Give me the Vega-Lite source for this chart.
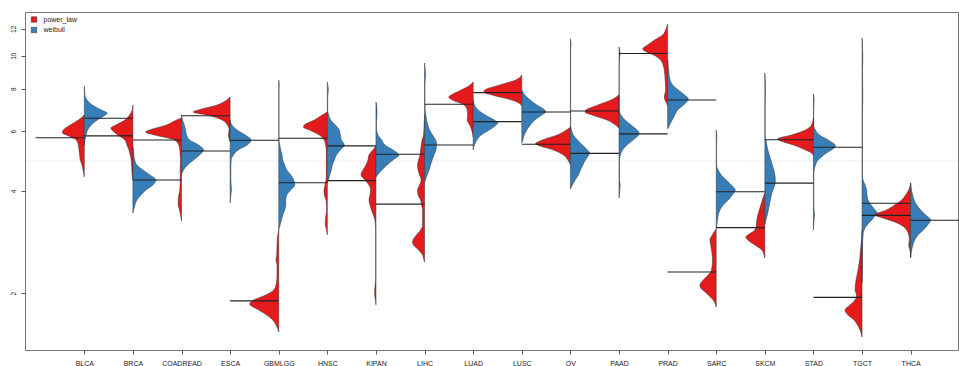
{
"$schema": "https://vega.github.io/schema/vega-lite/v6.json",
"width": 933, "height": 338, "autosize": "none",
"padding": {"left": 25, "top": 12, "right": 1, "bottom": 16},
"background": "white",
"config": {"font": "Liberation Sans", "view": {"stroke": "#777", "strokeWidth": 1},
 "axis": {"grid": false, "domain": false, "tickColor": "#555", "tickSize": 4, "labelColor": "#222", "labelFont": "Liberation Sans", "title": null}},
"datasets": {
"beans": [
{"c":"BLCA","m":"power_law","v":6.694,"w":0},{"c":"BLCA","m":"power_law","v":6.471,"w":0.123},{"c":"BLCA","m":"power_law","v":6.256,"w":0.288},{"c":"BLCA","m":"power_law","v":6.047,"w":0.432},{"c":"BLCA","m":"power_law","v":5.93,"w":0.453},{"c":"BLCA","m":"power_law","v":5.846,"w":0.37},{"c":"BLCA","m":"power_law","v":5.652,"w":0.165},{"c":"BLCA","m":"power_law","v":5.463,"w":0.123},{"c":"BLCA","m":"power_law","v":5.281,"w":0.109},{"c":"BLCA","m":"power_law","v":5.105,"w":0.097},{"c":"BLCA","m":"power_law","v":4.935,"w":0.082},{"c":"BLCA","m":"power_law","v":4.77,"w":0.047},{"c":"BLCA","m":"power_law","v":4.612,"w":0.027},{"c":"BLCA","m":"power_law","v":4.458,"w":0.006},{"c":"BLCA","m":"power_law","v":4.4,"w":0},
{"c":"BLCA","m":"weibull","v":8.15,"w":0},{"c":"BLCA","m":"weibull","v":7.929,"w":0.006},{"c":"BLCA","m":"weibull","v":7.665,"w":0.014},{"c":"BLCA","m":"weibull","v":7.41,"w":0.056},{"c":"BLCA","m":"weibull","v":7.164,"w":0.165},{"c":"BLCA","m":"weibull","v":6.925,"w":0.35},{"c":"BLCA","m":"weibull","v":6.785,"w":0.473},{"c":"BLCA","m":"weibull","v":6.694,"w":0.432},{"c":"BLCA","m":"weibull","v":6.471,"w":0.267},{"c":"BLCA","m":"weibull","v":6.256,"w":0.144},{"c":"BLCA","m":"weibull","v":6.047,"w":0.068},{"c":"BLCA","m":"weibull","v":5.846,"w":0.035},{"c":"BLCA","m":"weibull","v":5.652,"w":0.014},{"c":"BLCA","m":"weibull","v":5.463,"w":0},
{"c":"BRCA","m":"power_law","v":7.164,"w":0},{"c":"BRCA","m":"power_law","v":6.925,"w":0.014},{"c":"BRCA","m":"power_law","v":6.694,"w":0.068},{"c":"BRCA","m":"power_law","v":6.471,"w":0.165},{"c":"BRCA","m":"power_law","v":6.256,"w":0.35},{"c":"BRCA","m":"power_law","v":6.13,"w":0.453},{"c":"BRCA","m":"power_law","v":6.047,"w":0.432},{"c":"BRCA","m":"power_law","v":5.846,"w":0.309},{"c":"BRCA","m":"power_law","v":5.652,"w":0.165},{"c":"BRCA","m":"power_law","v":5.463,"w":0.123},{"c":"BRCA","m":"power_law","v":5.281,"w":0.082},{"c":"BRCA","m":"power_law","v":5.105,"w":0.056},{"c":"BRCA","m":"power_law","v":4.935,"w":0.035},{"c":"BRCA","m":"power_law","v":4.77,"w":0.027},{"c":"BRCA","m":"power_law","v":4.612,"w":0.021},{"c":"BRCA","m":"power_law","v":4.458,"w":0.014},{"c":"BRCA","m":"power_law","v":4.309,"w":0},
{"c":"BRCA","m":"weibull","v":5.39,"w":0},{"c":"BRCA","m":"weibull","v":5.281,"w":0.01},{"c":"BRCA","m":"weibull","v":5.105,"w":0.021},{"c":"BRCA","m":"weibull","v":4.935,"w":0.035},{"c":"BRCA","m":"weibull","v":4.77,"w":0.082},{"c":"BRCA","m":"weibull","v":4.612,"w":0.206},{"c":"BRCA","m":"weibull","v":4.458,"w":0.35},{"c":"BRCA","m":"weibull","v":4.309,"w":0.473},{"c":"BRCA","m":"weibull","v":4.166,"w":0.411},{"c":"BRCA","m":"weibull","v":4.027,"w":0.267},{"c":"BRCA","m":"weibull","v":3.893,"w":0.165},{"c":"BRCA","m":"weibull","v":3.763,"w":0.082},{"c":"BRCA","m":"weibull","v":3.638,"w":0.041},{"c":"BRCA","m":"weibull","v":3.517,"w":0.014},{"c":"BRCA","m":"weibull","v":3.446,"w":0},
{"c":"COADREAD","m":"power_law","v":6.56,"w":0},{"c":"COADREAD","m":"power_law","v":6.471,"w":0.103},{"c":"COADREAD","m":"power_law","v":6.256,"w":0.309},{"c":"COADREAD","m":"power_law","v":6.047,"w":0.658},{"c":"COADREAD","m":"power_law","v":5.966,"w":0.741},{"c":"COADREAD","m":"power_law","v":5.846,"w":0.555},{"c":"COADREAD","m":"power_law","v":5.652,"w":0.144},{"c":"COADREAD","m":"power_law","v":5.463,"w":0.056},{"c":"COADREAD","m":"power_law","v":5.281,"w":0.035},{"c":"COADREAD","m":"power_law","v":5.105,"w":0.027},{"c":"COADREAD","m":"power_law","v":4.935,"w":0.021},{"c":"COADREAD","m":"power_law","v":4.612,"w":0.027},{"c":"COADREAD","m":"power_law","v":4.309,"w":0.027},{"c":"COADREAD","m":"power_law","v":4.027,"w":0.035},{"c":"COADREAD","m":"power_law","v":3.893,"w":0.056},{"c":"COADREAD","m":"power_law","v":3.763,"w":0.068},{"c":"COADREAD","m":"power_law","v":3.638,"w":0.068},{"c":"COADREAD","m":"power_law","v":3.517,"w":0.041},{"c":"COADREAD","m":"power_law","v":3.4,"w":0.021},{"c":"COADREAD","m":"power_law","v":3.265,"w":0},
{"c":"COADREAD","m":"weibull","v":6.694,"w":0},{"c":"COADREAD","m":"weibull","v":6.471,"w":0.021},{"c":"COADREAD","m":"weibull","v":6.256,"w":0.056},{"c":"COADREAD","m":"weibull","v":6.047,"w":0.082},{"c":"COADREAD","m":"weibull","v":5.846,"w":0.103},{"c":"COADREAD","m":"weibull","v":5.652,"w":0.165},{"c":"COADREAD","m":"weibull","v":5.463,"w":0.35},{"c":"COADREAD","m":"weibull","v":5.281,"w":0.453},{"c":"COADREAD","m":"weibull","v":5.105,"w":0.37},{"c":"COADREAD","m":"weibull","v":4.935,"w":0.247},{"c":"COADREAD","m":"weibull","v":4.77,"w":0.123},{"c":"COADREAD","m":"weibull","v":4.612,"w":0.041},{"c":"COADREAD","m":"weibull","v":4.488,"w":0},
{"c":"ESCA","m":"power_law","v":7.562,"w":0},{"c":"ESCA","m":"power_law","v":7.41,"w":0.068},{"c":"ESCA","m":"power_law","v":7.164,"w":0.267},{"c":"ESCA","m":"power_law","v":6.925,"w":0.658},{"c":"ESCA","m":"power_law","v":6.832,"w":0.761},{"c":"ESCA","m":"power_law","v":6.694,"w":0.473},{"c":"ESCA","m":"power_law","v":6.471,"w":0.165},{"c":"ESCA","m":"power_law","v":6.256,"w":0.056},{"c":"ESCA","m":"power_law","v":6.047,"w":0.021},{"c":"ESCA","m":"power_law","v":5.846,"w":0.035},{"c":"ESCA","m":"power_law","v":5.652,"w":0.014},{"c":"ESCA","m":"power_law","v":5.576,"w":0},
{"c":"ESCA","m":"weibull","v":6.471,"w":0},{"c":"ESCA","m":"weibull","v":6.256,"w":0.035},{"c":"ESCA","m":"weibull","v":6.047,"w":0.144},{"c":"ESCA","m":"weibull","v":5.846,"w":0.309},{"c":"ESCA","m":"weibull","v":5.652,"w":0.432},{"c":"ESCA","m":"weibull","v":5.463,"w":0.35},{"c":"ESCA","m":"weibull","v":5.281,"w":0.165},{"c":"ESCA","m":"weibull","v":5.105,"w":0.068},{"c":"ESCA","m":"weibull","v":4.935,"w":0.021},{"c":"ESCA","m":"weibull","v":4.612,"w":0.014},{"c":"ESCA","m":"weibull","v":4.309,"w":0.014},{"c":"ESCA","m":"weibull","v":4.166,"w":0.021},{"c":"ESCA","m":"weibull","v":4.027,"w":0.027},{"c":"ESCA","m":"weibull","v":3.893,"w":0.014},{"c":"ESCA","m":"weibull","v":3.688,"w":0},
{"c":"GBMLGG","m":"power_law","v":3.071,"w":0},{"c":"GBMLGG","m":"power_law","v":2.969,"w":0.021},{"c":"GBMLGG","m":"power_law","v":2.774,"w":0.035},{"c":"GBMLGG","m":"power_law","v":2.593,"w":0.041},{"c":"GBMLGG","m":"power_law","v":2.506,"w":0.056},{"c":"GBMLGG","m":"power_law","v":2.423,"w":0.035},{"c":"GBMLGG","m":"power_law","v":2.264,"w":0.035},{"c":"GBMLGG","m":"power_law","v":2.116,"w":0.056},{"c":"GBMLGG","m":"power_law","v":2.045,"w":0.103},{"c":"GBMLGG","m":"power_law","v":1.977,"w":0.267},{"c":"GBMLGG","m":"power_law","v":1.911,"w":0.514},{"c":"GBMLGG","m":"power_law","v":1.861,"w":0.597},{"c":"GBMLGG","m":"power_law","v":1.786,"w":0.411},{"c":"GBMLGG","m":"power_law","v":1.727,"w":0.247},{"c":"GBMLGG","m":"power_law","v":1.669,"w":0.123},{"c":"GBMLGG","m":"power_law","v":1.614,"w":0.056},{"c":"GBMLGG","m":"power_law","v":1.539,"w":0},
{"c":"GBMLGG","m":"weibull","v":8.485,"w":0},{"c":"GBMLGG","m":"weibull","v":8.203,"w":0.01},{"c":"GBMLGG","m":"weibull","v":7.929,"w":0.006},{"c":"GBMLGG","m":"weibull","v":7.41,"w":0.006},{"c":"GBMLGG","m":"weibull","v":6.471,"w":0.006},{"c":"GBMLGG","m":"weibull","v":5.652,"w":0.006},{"c":"GBMLGG","m":"weibull","v":5.463,"w":0.021},{"c":"GBMLGG","m":"weibull","v":5.281,"w":0.041},{"c":"GBMLGG","m":"weibull","v":5.105,"w":0.068},{"c":"GBMLGG","m":"weibull","v":4.935,"w":0.082},{"c":"GBMLGG","m":"weibull","v":4.77,"w":0.123},{"c":"GBMLGG","m":"weibull","v":4.612,"w":0.165},{"c":"GBMLGG","m":"weibull","v":4.458,"w":0.247},{"c":"GBMLGG","m":"weibull","v":4.309,"w":0.309},{"c":"GBMLGG","m":"weibull","v":4.166,"w":0.329},{"c":"GBMLGG","m":"weibull","v":4.027,"w":0.247},{"c":"GBMLGG","m":"weibull","v":3.893,"w":0.165},{"c":"GBMLGG","m":"weibull","v":3.763,"w":0.144},{"c":"GBMLGG","m":"weibull","v":3.638,"w":0.144},{"c":"GBMLGG","m":"weibull","v":3.517,"w":0.123},{"c":"GBMLGG","m":"weibull","v":3.4,"w":0.082},{"c":"GBMLGG","m":"weibull","v":3.287,"w":0.056},{"c":"GBMLGG","m":"weibull","v":3.177,"w":0.027},{"c":"GBMLGG","m":"weibull","v":3.071,"w":0},
{"c":"HNSC","m":"power_law","v":6.832,"w":0},{"c":"HNSC","m":"power_law","v":6.694,"w":0.103},{"c":"HNSC","m":"power_law","v":6.471,"w":0.267},{"c":"HNSC","m":"power_law","v":6.256,"w":0.473},{"c":"HNSC","m":"power_law","v":6.172,"w":0.494},{"c":"HNSC","m":"power_law","v":6.047,"w":0.37},{"c":"HNSC","m":"power_law","v":5.846,"w":0.165},{"c":"HNSC","m":"power_law","v":5.652,"w":0.068},{"c":"HNSC","m":"power_law","v":5.463,"w":0.035},{"c":"HNSC","m":"power_law","v":5.281,"w":0.021},{"c":"HNSC","m":"power_law","v":4.458,"w":0.021},{"c":"HNSC","m":"power_law","v":4.309,"w":0.027},{"c":"HNSC","m":"power_law","v":4.166,"w":0.047},{"c":"HNSC","m":"power_law","v":4.027,"w":0.068},{"c":"HNSC","m":"power_law","v":3.893,"w":0.062},{"c":"HNSC","m":"power_law","v":3.763,"w":0.027},{"c":"HNSC","m":"power_law","v":3.517,"w":0.014},{"c":"HNSC","m":"power_law","v":3.287,"w":0.041},{"c":"HNSC","m":"power_law","v":3.177,"w":0.041},{"c":"HNSC","m":"power_law","v":3.071,"w":0.014},{"c":"HNSC","m":"power_law","v":2.969,"w":0},
{"c":"HNSC","m":"weibull","v":8.371,"w":0},{"c":"HNSC","m":"weibull","v":8.203,"w":0.01},{"c":"HNSC","m":"weibull","v":7.929,"w":0.021},{"c":"HNSC","m":"weibull","v":7.665,"w":0.01},{"c":"HNSC","m":"weibull","v":7.41,"w":0.006},{"c":"HNSC","m":"weibull","v":6.925,"w":0.006},{"c":"HNSC","m":"weibull","v":6.694,"w":0.027},{"c":"HNSC","m":"weibull","v":6.471,"w":0.068},{"c":"HNSC","m":"weibull","v":6.256,"w":0.165},{"c":"HNSC","m":"weibull","v":6.047,"w":0.247},{"c":"HNSC","m":"weibull","v":5.846,"w":0.267},{"c":"HNSC","m":"weibull","v":5.652,"w":0.288},{"c":"HNSC","m":"weibull","v":5.463,"w":0.35},{"c":"HNSC","m":"weibull","v":5.281,"w":0.267},{"c":"HNSC","m":"weibull","v":5.105,"w":0.185},{"c":"HNSC","m":"weibull","v":4.935,"w":0.144},{"c":"HNSC","m":"weibull","v":4.77,"w":0.103},{"c":"HNSC","m":"weibull","v":4.612,"w":0.082},{"c":"HNSC","m":"weibull","v":4.458,"w":0.051},{"c":"HNSC","m":"weibull","v":4.309,"w":0.021},{"c":"HNSC","m":"weibull","v":4.223,"w":0},
{"c":"KIPAN","m":"power_law","v":5.426,"w":0},{"c":"KIPAN","m":"power_law","v":5.281,"w":0.062},{"c":"KIPAN","m":"power_law","v":5.105,"w":0.144},{"c":"KIPAN","m":"power_law","v":4.935,"w":0.165},{"c":"KIPAN","m":"power_law","v":4.77,"w":0.206},{"c":"KIPAN","m":"power_law","v":4.612,"w":0.267},{"c":"KIPAN","m":"power_law","v":4.458,"w":0.309},{"c":"KIPAN","m":"power_law","v":4.309,"w":0.226},{"c":"KIPAN","m":"power_law","v":4.166,"w":0.144},{"c":"KIPAN","m":"power_law","v":4.027,"w":0.109},{"c":"KIPAN","m":"power_law","v":3.893,"w":0.123},{"c":"KIPAN","m":"power_law","v":3.763,"w":0.144},{"c":"KIPAN","m":"power_law","v":3.638,"w":0.123},{"c":"KIPAN","m":"power_law","v":3.517,"w":0.093},{"c":"KIPAN","m":"power_law","v":3.4,"w":0.056},{"c":"KIPAN","m":"power_law","v":3.287,"w":0.021},{"c":"KIPAN","m":"power_law","v":3.071,"w":0.006},{"c":"KIPAN","m":"power_law","v":2.189,"w":0.006},{"c":"KIPAN","m":"power_law","v":2.045,"w":0.027},{"c":"KIPAN","m":"power_law","v":1.977,"w":0.027},{"c":"KIPAN","m":"power_law","v":1.911,"w":0.01},{"c":"KIPAN","m":"power_law","v":1.848,"w":0},
{"c":"KIPAN","m":"weibull","v":7.31,"w":0},{"c":"KIPAN","m":"weibull","v":7.164,"w":0.014},{"c":"KIPAN","m":"weibull","v":6.925,"w":0.021},{"c":"KIPAN","m":"weibull","v":6.694,"w":0.021},{"c":"KIPAN","m":"weibull","v":6.471,"w":0.014},{"c":"KIPAN","m":"weibull","v":6.256,"w":0.01},{"c":"KIPAN","m":"weibull","v":6.047,"w":0.014},{"c":"KIPAN","m":"weibull","v":5.846,"w":0.041},{"c":"KIPAN","m":"weibull","v":5.652,"w":0.117},{"c":"KIPAN","m":"weibull","v":5.463,"w":0.185},{"c":"KIPAN","m":"weibull","v":5.281,"w":0.35},{"c":"KIPAN","m":"weibull","v":5.105,"w":0.473},{"c":"KIPAN","m":"weibull","v":4.935,"w":0.35},{"c":"KIPAN","m":"weibull","v":4.77,"w":0.226},{"c":"KIPAN","m":"weibull","v":4.612,"w":0.123},{"c":"KIPAN","m":"weibull","v":4.458,"w":0.031},{"c":"KIPAN","m":"weibull","v":4.398,"w":0},
{"c":"LIHC","m":"power_law","v":6.694,"w":0},{"c":"LIHC","m":"power_law","v":6.256,"w":0.01},{"c":"LIHC","m":"power_law","v":5.846,"w":0.021},{"c":"LIHC","m":"power_law","v":5.652,"w":0.051},{"c":"LIHC","m":"power_law","v":5.463,"w":0.068},{"c":"LIHC","m":"power_law","v":5.281,"w":0.082},{"c":"LIHC","m":"power_law","v":5.105,"w":0.093},{"c":"LIHC","m":"power_law","v":4.935,"w":0.123},{"c":"LIHC","m":"power_law","v":4.77,"w":0.144},{"c":"LIHC","m":"power_law","v":4.612,"w":0.134},{"c":"LIHC","m":"power_law","v":4.458,"w":0.103},{"c":"LIHC","m":"power_law","v":4.309,"w":0.072},{"c":"LIHC","m":"power_law","v":4.166,"w":0.103},{"c":"LIHC","m":"power_law","v":4.027,"w":0.144},{"c":"LIHC","m":"power_law","v":3.893,"w":0.134},{"c":"LIHC","m":"power_law","v":3.763,"w":0.082},{"c":"LIHC","m":"power_law","v":3.638,"w":0.062},{"c":"LIHC","m":"power_law","v":3.517,"w":0.041},{"c":"LIHC","m":"power_law","v":3.177,"w":0.041},{"c":"LIHC","m":"power_law","v":3.071,"w":0.082},{"c":"LIHC","m":"power_law","v":2.969,"w":0.165},{"c":"LIHC","m":"power_law","v":2.87,"w":0.237},{"c":"LIHC","m":"power_law","v":2.812,"w":0.247},{"c":"LIHC","m":"power_law","v":2.774,"w":0.226},{"c":"LIHC","m":"power_law","v":2.682,"w":0.123},{"c":"LIHC","m":"power_law","v":2.593,"w":0.041},{"c":"LIHC","m":"power_law","v":2.506,"w":0.014},{"c":"LIHC","m":"power_law","v":2.472,"w":0},
{"c":"LIHC","m":"weibull","v":9.521,"w":0},{"c":"LIHC","m":"weibull","v":9.08,"w":0.014},{"c":"LIHC","m":"weibull","v":8.777,"w":0.021},{"c":"LIHC","m":"weibull","v":8.485,"w":0.014},{"c":"LIHC","m":"weibull","v":8.203,"w":0.008},{"c":"LIHC","m":"weibull","v":7.164,"w":0.008},{"c":"LIHC","m":"weibull","v":6.925,"w":0.014},{"c":"LIHC","m":"weibull","v":6.694,"w":0.027},{"c":"LIHC","m":"weibull","v":6.471,"w":0.041},{"c":"LIHC","m":"weibull","v":6.256,"w":0.068},{"c":"LIHC","m":"weibull","v":6.047,"w":0.103},{"c":"LIHC","m":"weibull","v":5.846,"w":0.165},{"c":"LIHC","m":"weibull","v":5.652,"w":0.226},{"c":"LIHC","m":"weibull","v":5.538,"w":0.247},{"c":"LIHC","m":"weibull","v":5.281,"w":0.232},{"c":"LIHC","m":"weibull","v":5.105,"w":0.195},{"c":"LIHC","m":"weibull","v":4.935,"w":0.154},{"c":"LIHC","m":"weibull","v":4.77,"w":0.123},{"c":"LIHC","m":"weibull","v":4.612,"w":0.093},{"c":"LIHC","m":"weibull","v":4.458,"w":0.051},{"c":"LIHC","m":"weibull","v":4.309,"w":0.014},{"c":"LIHC","m":"weibull","v":4.251,"w":0},
{"c":"LUAD","m":"power_law","v":8.371,"w":0},{"c":"LUAD","m":"power_law","v":8.203,"w":0.062},{"c":"LUAD","m":"power_law","v":7.929,"w":0.247},{"c":"LUAD","m":"power_law","v":7.665,"w":0.453},{"c":"LUAD","m":"power_law","v":7.562,"w":0.504},{"c":"LUAD","m":"power_law","v":7.41,"w":0.432},{"c":"LUAD","m":"power_law","v":7.164,"w":0.185},{"c":"LUAD","m":"power_law","v":6.925,"w":0.123},{"c":"LUAD","m":"power_law","v":6.694,"w":0.113},{"c":"LUAD","m":"power_law","v":6.471,"w":0.123},{"c":"LUAD","m":"power_law","v":6.256,"w":0.072},{"c":"LUAD","m":"power_law","v":6.047,"w":0.031},{"c":"LUAD","m":"power_law","v":5.846,"w":0.006},{"c":"LUAD","m":"power_law","v":5.767,"w":0},
{"c":"LUAD","m":"weibull","v":7.41,"w":0},{"c":"LUAD","m":"weibull","v":7.164,"w":0.027},{"c":"LUAD","m":"weibull","v":6.925,"w":0.103},{"c":"LUAD","m":"weibull","v":6.694,"w":0.247},{"c":"LUAD","m":"weibull","v":6.471,"w":0.432},{"c":"LUAD","m":"weibull","v":6.341,"w":0.508},{"c":"LUAD","m":"weibull","v":6.256,"w":0.473},{"c":"LUAD","m":"weibull","v":6.047,"w":0.329},{"c":"LUAD","m":"weibull","v":5.846,"w":0.165},{"c":"LUAD","m":"weibull","v":5.652,"w":0.076},{"c":"LUAD","m":"weibull","v":5.463,"w":0.027},{"c":"LUAD","m":"weibull","v":5.281,"w":0},
{"c":"LUSC","m":"power_law","v":8.777,"w":0},{"c":"LUSC","m":"power_law","v":8.485,"w":0.123},{"c":"LUSC","m":"power_law","v":8.203,"w":0.453},{"c":"LUSC","m":"power_law","v":7.929,"w":0.761},{"c":"LUSC","m":"power_law","v":7.822,"w":0.782},{"c":"LUSC","m":"power_law","v":7.665,"w":0.617},{"c":"LUSC","m":"power_law","v":7.41,"w":0.206},{"c":"LUSC","m":"power_law","v":7.261,"w":0.062},{"c":"LUSC","m":"power_law","v":7.116,"w":0},
{"c":"LUSC","m":"weibull","v":7.929,"w":0},{"c":"LUSC","m":"weibull","v":7.665,"w":0.062},{"c":"LUSC","m":"weibull","v":7.41,"w":0.171},{"c":"LUSC","m":"weibull","v":7.164,"w":0.309},{"c":"LUSC","m":"weibull","v":6.925,"w":0.473},{"c":"LUSC","m":"weibull","v":6.832,"w":0.494},{"c":"LUSC","m":"weibull","v":6.694,"w":0.411},{"c":"LUSC","m":"weibull","v":6.471,"w":0.267},{"c":"LUSC","m":"weibull","v":6.256,"w":0.175},{"c":"LUSC","m":"weibull","v":6.047,"w":0.103},{"c":"LUSC","m":"weibull","v":5.846,"w":0.051},{"c":"LUSC","m":"weibull","v":5.652,"w":0.021},{"c":"LUSC","m":"weibull","v":5.538,"w":0},
{"c":"OV","m":"power_law","v":6.172,"w":0},{"c":"OV","m":"power_law","v":6.047,"w":0.082},{"c":"OV","m":"power_law","v":5.846,"w":0.267},{"c":"OV","m":"power_law","v":5.652,"w":0.576},{"c":"OV","m":"power_law","v":5.5,"w":0.72},{"c":"OV","m":"power_law","v":5.463,"w":0.679},{"c":"OV","m":"power_law","v":5.281,"w":0.35},{"c":"OV","m":"power_law","v":5.105,"w":0.144},{"c":"OV","m":"power_law","v":4.935,"w":0.051},{"c":"OV","m":"power_law","v":4.77,"w":0},
{"c":"OV","m":"weibull","v":11.21,"w":0},{"c":"OV","m":"weibull","v":10.76,"w":0.014},{"c":"OV","m":"weibull","v":10.4,"w":0.006},{"c":"OV","m":"weibull","v":6.256,"w":0.006},{"c":"OV","m":"weibull","v":6.047,"w":0.021},{"c":"OV","m":"weibull","v":5.846,"w":0.062},{"c":"OV","m":"weibull","v":5.652,"w":0.144},{"c":"OV","m":"weibull","v":5.463,"w":0.247},{"c":"OV","m":"weibull","v":5.281,"w":0.35},{"c":"OV","m":"weibull","v":5.175,"w":0.391},{"c":"OV","m":"weibull","v":5.036,"w":0.35},{"c":"OV","m":"weibull","v":4.935,"w":0.309},{"c":"OV","m":"weibull","v":4.77,"w":0.257},{"c":"OV","m":"weibull","v":4.612,"w":0.206},{"c":"OV","m":"weibull","v":4.458,"w":0.165},{"c":"OV","m":"weibull","v":4.309,"w":0.097},{"c":"OV","m":"weibull","v":4.166,"w":0.041},{"c":"OV","m":"weibull","v":4.054,"w":0},
{"c":"PAAD","m":"power_law","v":7.665,"w":0},{"c":"PAAD","m":"power_law","v":7.41,"w":0.165},{"c":"PAAD","m":"power_law","v":7.164,"w":0.432},{"c":"PAAD","m":"power_law","v":6.925,"w":0.679},{"c":"PAAD","m":"power_law","v":6.832,"w":0.699},{"c":"PAAD","m":"power_law","v":6.694,"w":0.555},{"c":"PAAD","m":"power_law","v":6.471,"w":0.247},{"c":"PAAD","m":"power_law","v":6.256,"w":0.072},{"c":"PAAD","m":"power_law","v":6.13,"w":0},
{"c":"PAAD","m":"weibull","v":10.62,"w":0},{"c":"PAAD","m":"weibull","v":10.4,"w":0.014},{"c":"PAAD","m":"weibull","v":10.05,"w":0.021},{"c":"PAAD","m":"weibull","v":9.716,"w":0.01},{"c":"PAAD","m":"weibull","v":9.393,"w":0.006},{"c":"PAAD","m":"weibull","v":6.925,"w":0.006},{"c":"PAAD","m":"weibull","v":6.694,"w":0.041},{"c":"PAAD","m":"weibull","v":6.471,"w":0.123},{"c":"PAAD","m":"weibull","v":6.256,"w":0.247},{"c":"PAAD","m":"weibull","v":6.047,"w":0.37},{"c":"PAAD","m":"weibull","v":5.926,"w":0.411},{"c":"PAAD","m":"weibull","v":5.846,"w":0.401},{"c":"PAAD","m":"weibull","v":5.652,"w":0.288},{"c":"PAAD","m":"weibull","v":5.463,"w":0.165},{"c":"PAAD","m":"weibull","v":5.281,"w":0.072},{"c":"PAAD","m":"weibull","v":5.105,"w":0.027},{"c":"PAAD","m":"weibull","v":4.935,"w":0.01},{"c":"PAAD","m":"weibull","v":4.309,"w":0.01},{"c":"PAAD","m":"weibull","v":4.166,"w":0.025},{"c":"PAAD","m":"weibull","v":4.027,"w":0.016},{"c":"PAAD","m":"weibull","v":3.893,"w":0.006},{"c":"PAAD","m":"weibull","v":3.814,"w":0},
{"c":"PRAD","m":"power_law","v":12.4,"w":0},{"c":"PRAD","m":"power_law","v":11.91,"w":0.041},{"c":"PRAD","m":"power_law","v":11.51,"w":0.103},{"c":"PRAD","m":"power_law","v":11.13,"w":0.267},{"c":"PRAD","m":"power_law","v":10.76,"w":0.411},{"c":"PRAD","m":"power_law","v":10.47,"w":0.514},{"c":"PRAD","m":"power_law","v":10.26,"w":0.432},{"c":"PRAD","m":"power_law","v":10.05,"w":0.288},{"c":"PRAD","m":"power_law","v":9.716,"w":0.144},{"c":"PRAD","m":"power_law","v":9.393,"w":0.093},{"c":"PRAD","m":"power_law","v":9.08,"w":0.068},{"c":"PRAD","m":"power_law","v":8.485,"w":0.051},{"c":"PRAD","m":"power_law","v":7.929,"w":0.041},{"c":"PRAD","m":"power_law","v":7.665,"w":0.062},{"c":"PRAD","m":"power_law","v":7.511,"w":0.068},{"c":"PRAD","m":"power_law","v":7.31,"w":0.031},{"c":"PRAD","m":"power_law","v":7.116,"w":0},
{"c":"PRAD","m":"weibull","v":9.716,"w":0},{"c":"PRAD","m":"weibull","v":9.393,"w":0.01},{"c":"PRAD","m":"weibull","v":9.08,"w":0.021},{"c":"PRAD","m":"weibull","v":8.777,"w":0.031},{"c":"PRAD","m":"weibull","v":8.485,"w":0.051},{"c":"PRAD","m":"weibull","v":8.203,"w":0.103},{"c":"PRAD","m":"weibull","v":7.929,"w":0.22},{"c":"PRAD","m":"weibull","v":7.665,"w":0.35},{"c":"PRAD","m":"weibull","v":7.46,"w":0.426},{"c":"PRAD","m":"weibull","v":7.31,"w":0.391},{"c":"PRAD","m":"weibull","v":7.164,"w":0.329},{"c":"PRAD","m":"weibull","v":6.925,"w":0.206},{"c":"PRAD","m":"weibull","v":6.694,"w":0.15},{"c":"PRAD","m":"weibull","v":6.471,"w":0.093},{"c":"PRAD","m":"weibull","v":6.256,"w":0.041},{"c":"PRAD","m":"weibull","v":6.088,"w":0},
{"c":"SARC","m":"power_law","v":3.092,"w":0},{"c":"SARC","m":"power_law","v":2.969,"w":0.082},{"c":"SARC","m":"power_law","v":2.87,"w":0.13},{"c":"SARC","m":"power_law","v":2.774,"w":0.113},{"c":"SARC","m":"power_law","v":2.682,"w":0.097},{"c":"SARC","m":"power_law","v":2.506,"w":0.076},{"c":"SARC","m":"power_law","v":2.342,"w":0.097},{"c":"SARC","m":"power_law","v":2.264,"w":0.165},{"c":"SARC","m":"power_law","v":2.189,"w":0.267},{"c":"SARC","m":"power_law","v":2.116,"w":0.335},{"c":"SARC","m":"power_law","v":2.073,"w":0.319},{"c":"SARC","m":"power_law","v":2.018,"w":0.226},{"c":"SARC","m":"power_law","v":1.977,"w":0.165},{"c":"SARC","m":"power_law","v":1.911,"w":0.062},{"c":"SARC","m":"power_law","v":1.861,"w":0.021},{"c":"SARC","m":"power_law","v":1.823,"w":0},
{"c":"SARC","m":"weibull","v":6.047,"w":0},{"c":"SARC","m":"weibull","v":5.846,"w":0.014},{"c":"SARC","m":"weibull","v":5.652,"w":0.01},{"c":"SARC","m":"weibull","v":5.281,"w":0.006},{"c":"SARC","m":"weibull","v":4.77,"w":0.006},{"c":"SARC","m":"weibull","v":4.612,"w":0.041},{"c":"SARC","m":"weibull","v":4.458,"w":0.103},{"c":"SARC","m":"weibull","v":4.309,"w":0.206},{"c":"SARC","m":"weibull","v":4.166,"w":0.309},{"c":"SARC","m":"weibull","v":4.027,"w":0.391},{"c":"SARC","m":"weibull","v":3.893,"w":0.329},{"c":"SARC","m":"weibull","v":3.763,"w":0.247},{"c":"SARC","m":"weibull","v":3.638,"w":0.144},{"c":"SARC","m":"weibull","v":3.517,"w":0.076},{"c":"SARC","m":"weibull","v":3.4,"w":0.041},{"c":"SARC","m":"weibull","v":3.287,"w":0.027},{"c":"SARC","m":"weibull","v":3.092,"w":0},
{"c":"SKCM","m":"power_law","v":3.946,"w":0},{"c":"SKCM","m":"power_law","v":3.763,"w":0.051},{"c":"SKCM","m":"power_law","v":3.638,"w":0.082},{"c":"SKCM","m":"power_law","v":3.517,"w":0.113},{"c":"SKCM","m":"power_law","v":3.4,"w":0.144},{"c":"SKCM","m":"power_law","v":3.287,"w":0.165},{"c":"SKCM","m":"power_law","v":3.177,"w":0.175},{"c":"SKCM","m":"power_law","v":3.071,"w":0.206},{"c":"SKCM","m":"power_law","v":2.969,"w":0.35},{"c":"SKCM","m":"power_law","v":2.929,"w":0.391},{"c":"SKCM","m":"power_law","v":2.87,"w":0.35},{"c":"SKCM","m":"power_law","v":2.774,"w":0.206},{"c":"SKCM","m":"power_law","v":2.682,"w":0.062},{"c":"SKCM","m":"power_law","v":2.593,"w":0.016},{"c":"SKCM","m":"power_law","v":2.541,"w":0},
{"c":"SKCM","m":"weibull","v":8.897,"w":0},{"c":"SKCM","m":"weibull","v":8.485,"w":0.01},{"c":"SKCM","m":"weibull","v":7.929,"w":0.014},{"c":"SKCM","m":"weibull","v":7.41,"w":0.01},{"c":"SKCM","m":"weibull","v":6.925,"w":0.008},{"c":"SKCM","m":"weibull","v":5.846,"w":0.008},{"c":"SKCM","m":"weibull","v":5.652,"w":0.021},{"c":"SKCM","m":"weibull","v":5.463,"w":0.041},{"c":"SKCM","m":"weibull","v":5.281,"w":0.062},{"c":"SKCM","m":"weibull","v":5.105,"w":0.093},{"c":"SKCM","m":"weibull","v":4.935,"w":0.123},{"c":"SKCM","m":"weibull","v":4.77,"w":0.154},{"c":"SKCM","m":"weibull","v":4.612,"w":0.185},{"c":"SKCM","m":"weibull","v":4.458,"w":0.206},{"c":"SKCM","m":"weibull","v":4.309,"w":0.216},{"c":"SKCM","m":"weibull","v":4.166,"w":0.206},{"c":"SKCM","m":"weibull","v":4.027,"w":0.165},{"c":"SKCM","m":"weibull","v":3.893,"w":0.134},{"c":"SKCM","m":"weibull","v":3.763,"w":0.113},{"c":"SKCM","m":"weibull","v":3.638,"w":0.093},{"c":"SKCM","m":"weibull","v":3.517,"w":0.072},{"c":"SKCM","m":"weibull","v":3.4,"w":0.051},{"c":"SKCM","m":"weibull","v":3.287,"w":0.021},{"c":"SKCM","m":"weibull","v":3.199,"w":0},
{"c":"STAD","m":"power_law","v":6.56,"w":0},{"c":"STAD","m":"power_law","v":6.256,"w":0.041},{"c":"STAD","m":"power_law","v":6.047,"w":0.165},{"c":"STAD","m":"power_law","v":5.846,"w":0.453},{"c":"STAD","m":"power_law","v":5.69,"w":0.741},{"c":"STAD","m":"power_law","v":5.576,"w":0.617},{"c":"STAD","m":"power_law","v":5.463,"w":0.411},{"c":"STAD","m":"power_law","v":5.281,"w":0.165},{"c":"STAD","m":"power_law","v":5.175,"w":0.041},{"c":"STAD","m":"power_law","v":5.071,"w":0},
{"c":"STAD","m":"weibull","v":7.717,"w":0},{"c":"STAD","m":"weibull","v":7.41,"w":0.014},{"c":"STAD","m":"weibull","v":7.164,"w":0.01},{"c":"STAD","m":"weibull","v":6.925,"w":0.006},{"c":"STAD","m":"weibull","v":6.256,"w":0.006},{"c":"STAD","m":"weibull","v":6.047,"w":0.041},{"c":"STAD","m":"weibull","v":5.846,"w":0.123},{"c":"STAD","m":"weibull","v":5.652,"w":0.302},{"c":"STAD","m":"weibull","v":5.426,"w":0.453},{"c":"STAD","m":"weibull","v":5.281,"w":0.37},{"c":"STAD","m":"weibull","v":5.175,"w":0.267},{"c":"STAD","m":"weibull","v":5.036,"w":0.165},{"c":"STAD","m":"weibull","v":4.935,"w":0.097},{"c":"STAD","m":"weibull","v":4.77,"w":0.041},{"c":"STAD","m":"weibull","v":4.612,"w":0.016},{"c":"STAD","m":"weibull","v":4.458,"w":0.008},{"c":"STAD","m":"weibull","v":3.638,"w":0.008},{"c":"STAD","m":"weibull","v":3.4,"w":0.021},{"c":"STAD","m":"weibull","v":3.287,"w":0.014},{"c":"STAD","m":"weibull","v":3.071,"w":0},
{"c":"TGCT","m":"power_law","v":3.071,"w":0},{"c":"TGCT","m":"power_law","v":2.87,"w":0.01},{"c":"TGCT","m":"power_law","v":2.682,"w":0.031},{"c":"TGCT","m":"power_law","v":2.506,"w":0.051},{"c":"TGCT","m":"power_law","v":2.342,"w":0.082},{"c":"TGCT","m":"power_law","v":2.189,"w":0.123},{"c":"TGCT","m":"power_law","v":2.045,"w":0.144},{"c":"TGCT","m":"power_law","v":1.977,"w":0.113},{"c":"TGCT","m":"power_law","v":1.911,"w":0.144},{"c":"TGCT","m":"power_law","v":1.848,"w":0.247},{"c":"TGCT","m":"power_law","v":1.786,"w":0.35},{"c":"TGCT","m":"power_law","v":1.727,"w":0.288},{"c":"TGCT","m":"power_law","v":1.669,"w":0.165},{"c":"TGCT","m":"power_law","v":1.614,"w":0.093},{"c":"TGCT","m":"power_law","v":1.56,"w":0.041},{"c":"TGCT","m":"power_law","v":1.488,"w":0},
{"c":"TGCT","m":"weibull","v":11.28,"w":0},{"c":"TGCT","m":"weibull","v":10.76,"w":0.008},{"c":"TGCT","m":"weibull","v":9.716,"w":0.016},{"c":"TGCT","m":"weibull","v":9.08,"w":0.008},{"c":"TGCT","m":"weibull","v":7.41,"w":0.016},{"c":"TGCT","m":"weibull","v":6.925,"w":0.008},{"c":"TGCT","m":"weibull","v":4.458,"w":0.008},{"c":"TGCT","m":"weibull","v":4.309,"w":0.021},{"c":"TGCT","m":"weibull","v":4.166,"w":0.062},{"c":"TGCT","m":"weibull","v":4.027,"w":0.093},{"c":"TGCT","m":"weibull","v":3.893,"w":0.103},{"c":"TGCT","m":"weibull","v":3.763,"w":0.123},{"c":"TGCT","m":"weibull","v":3.638,"w":0.185},{"c":"TGCT","m":"weibull","v":3.517,"w":0.267},{"c":"TGCT","m":"weibull","v":3.446,"w":0.309},{"c":"TGCT","m":"weibull","v":3.354,"w":0.247},{"c":"TGCT","m":"weibull","v":3.287,"w":0.2},{"c":"TGCT","m":"weibull","v":3.177,"w":0.103},{"c":"TGCT","m":"weibull","v":3.071,"w":0.041},{"c":"TGCT","m":"weibull","v":2.969,"w":0.021},{"c":"TGCT","m":"weibull","v":2.774,"w":0.01},{"c":"TGCT","m":"weibull","v":2.342,"w":0.006},{"c":"TGCT","m":"weibull","v":2.145,"w":0},
{"c":"THCA","m":"power_law","v":4.223,"w":0},{"c":"THCA","m":"power_law","v":4.027,"w":0.041},{"c":"THCA","m":"power_law","v":3.893,"w":0.103},{"c":"THCA","m":"power_law","v":3.763,"w":0.185},{"c":"THCA","m":"power_law","v":3.638,"w":0.329},{"c":"THCA","m":"power_law","v":3.517,"w":0.494},{"c":"THCA","m":"power_law","v":3.4,"w":0.741},{"c":"THCA","m":"power_law","v":3.332,"w":0.576},{"c":"THCA","m":"power_law","v":3.243,"w":0.329},{"c":"THCA","m":"power_law","v":3.156,"w":0.165},{"c":"THCA","m":"power_law","v":3.071,"w":0.082},{"c":"THCA","m":"power_law","v":2.969,"w":0.041},{"c":"THCA","m":"power_law","v":2.87,"w":0.027},{"c":"THCA","m":"power_law","v":2.774,"w":0.041},{"c":"THCA","m":"power_law","v":2.682,"w":0.016},{"c":"THCA","m":"power_law","v":2.558,"w":0},
{"c":"THCA","m":"weibull","v":4.223,"w":0},{"c":"THCA","m":"weibull","v":4.027,"w":0.016},{"c":"THCA","m":"weibull","v":3.893,"w":0.041},{"c":"THCA","m":"weibull","v":3.763,"w":0.072},{"c":"THCA","m":"weibull","v":3.638,"w":0.123},{"c":"THCA","m":"weibull","v":3.517,"w":0.206},{"c":"THCA","m":"weibull","v":3.4,"w":0.309},{"c":"THCA","m":"weibull","v":3.287,"w":0.411},{"c":"THCA","m":"weibull","v":3.177,"w":0.35},{"c":"THCA","m":"weibull","v":3.071,"w":0.261},{"c":"THCA","m":"weibull","v":2.969,"w":0.154},{"c":"THCA","m":"weibull","v":2.87,"w":0.082},{"c":"THCA","m":"weibull","v":2.774,"w":0.047},{"c":"THCA","m":"weibull","v":2.682,"w":0.021},{"c":"THCA","m":"weibull","v":2.541,"w":0}
],
"means": [
{"c":"BLCA","m":"power_law","mean":5.74},{"c":"BLCA","m":"weibull","mean":6.55},
{"c":"BRCA","m":"power_law","mean":5.81},{"c":"BRCA","m":"weibull","mean":4.31},
{"c":"COADREAD","m":"power_law","mean":5.65},{"c":"COADREAD","m":"weibull","mean":5.245},
{"c":"ESCA","m":"power_law","mean":6.66},{"c":"ESCA","m":"weibull","mean":5.64},
{"c":"GBMLGG","m":"power_law","mean":1.9},{"c":"GBMLGG","m":"weibull","mean":4.23},
{"c":"HNSC","m":"power_law","mean":5.72},{"c":"HNSC","m":"weibull","mean":5.43},
{"c":"KIPAN","m":"power_law","mean":4.29},{"c":"KIPAN","m":"weibull","mean":5.13},
{"c":"LIHC","m":"power_law","mean":3.66},{"c":"LIHC","m":"weibull","mean":5.46},
{"c":"LUAD","m":"power_law","mean":7.2},{"c":"LUAD","m":"weibull","mean":6.4},
{"c":"LUSC","m":"power_law","mean":7.79},{"c":"LUSC","m":"weibull","mean":6.83},
{"c":"OV","m":"power_law","mean":5.49},{"c":"OV","m":"weibull","mean":5.16},
{"c":"PAAD","m":"power_law","mean":6.88},{"c":"PAAD","m":"weibull","mean":5.89},
{"c":"PRAD","m":"power_law","mean":10.15},{"c":"PRAD","m":"weibull","mean":7.41},
{"c":"SARC","m":"power_law","mean":2.31},{"c":"SARC","m":"weibull","mean":3.98},
{"c":"SKCM","m":"power_law","mean":3.12},{"c":"SKCM","m":"weibull","mean":4.22},
{"c":"STAD","m":"power_law","mean":5.66},{"c":"STAD","m":"weibull","mean":5.38},
{"c":"TGCT","m":"power_law","mean":1.946},{"c":"TGCT","m":"weibull","mean":3.68},
{"c":"THCA","m":"power_law","mean":3.39},{"c":"THCA","m":"weibull","mean":3.28}
],
"overall": [{"grand": 4.9}]
},
"layer": [
{"data": {"name": "overall"},
 "mark": {"type": "rule", "color": "#c8c8c8", "strokeWidth": 0.6, "strokeDash": [1.5, 1.5]},
 "encoding": {"y": {"field": "grand", "type": "quantitative", "scale": {"type": "log", "domain": [1.362, 13.45], "nice": false, "zero": false},
   "axis": {"values": [2, 4, 6, 8, 10, 12], "labelAngle": 270, "labelAlign": "center", "labelBaseline": "bottom", "labelPadding": 4.5, "labelFontSize": 6.5}}}},
{"data": {"name": "beans"},
 "transform": [
  {"window": [{"op": "dense_rank", "as": "idx"}], "sort": [{"field": "c", "order": "ascending"}]},
  {"calculate": "datum.m == 'power_law' ? datum.idx - datum.w : datum.idx + datum.w", "as": "xe"}
 ],
 "mark": {"type": "area", "orient": "horizontal", "interpolate": "monotone", "stroke": "#333", "strokeWidth": 0.5, "fillOpacity": 1},
 "encoding": {
  "y": {"field": "v", "type": "quantitative"},
  "x": {"field": "xe", "type": "quantitative", "stack": null, "scale": {"domain": [-0.22, 18.974], "nice": false, "zero": false},
   "axis": {"values": [1,2,3,4,5,6,7,8,9,10,11,12,13,14,15,16,17,18], "labelFontSize": 7, "labelPadding": 5, "labelBaseline": "top",
    "labelExpr": "['BLCA','BRCA','COADREAD','ESCA','GBMLGG','HNSC','KIPAN','LIHC','LUAD','LUSC','OV','PAAD','PRAD','SARC','SKCM','STAD','TGCT','THCA'][datum.value - 1]"}},
  "x2": {"field": "idx"},
  "detail": {"field": "c"},
  "color": {"field": "m", "type": "nominal", "scale": {"domain": ["power_law", "weibull"], "range": ["#E41A1C", "#377EB8"]},
   "legend": {"title": null, "orient": "none", "legendX": 5.5, "legendY": 4, "padding": 0, "symbolType": "square", "symbolSize": 30,
    "symbolStrokeColor": "#333", "symbolStrokeWidth": 0.5, "labelFontSize": 7, "labelColor": "#222", "labelOffset": 6, "rowPadding": 1.5}}
 }},
{"data": {"name": "means"},
 "transform": [
  {"window": [{"op": "dense_rank", "as": "idx"}], "sort": [{"field": "c", "order": "ascending"}]},
  {"calculate": "datum.m == 'power_law' ? datum.idx - 1 : datum.idx + 1", "as": "xe"}
 ],
 "mark": {"type": "rule", "color": "#222", "strokeWidth": 1.1},
 "encoding": {
  "y": {"field": "mean", "type": "quantitative"},
  "x": {"field": "idx", "type": "quantitative"},
  "x2": {"field": "xe"}
 }}
]
}
